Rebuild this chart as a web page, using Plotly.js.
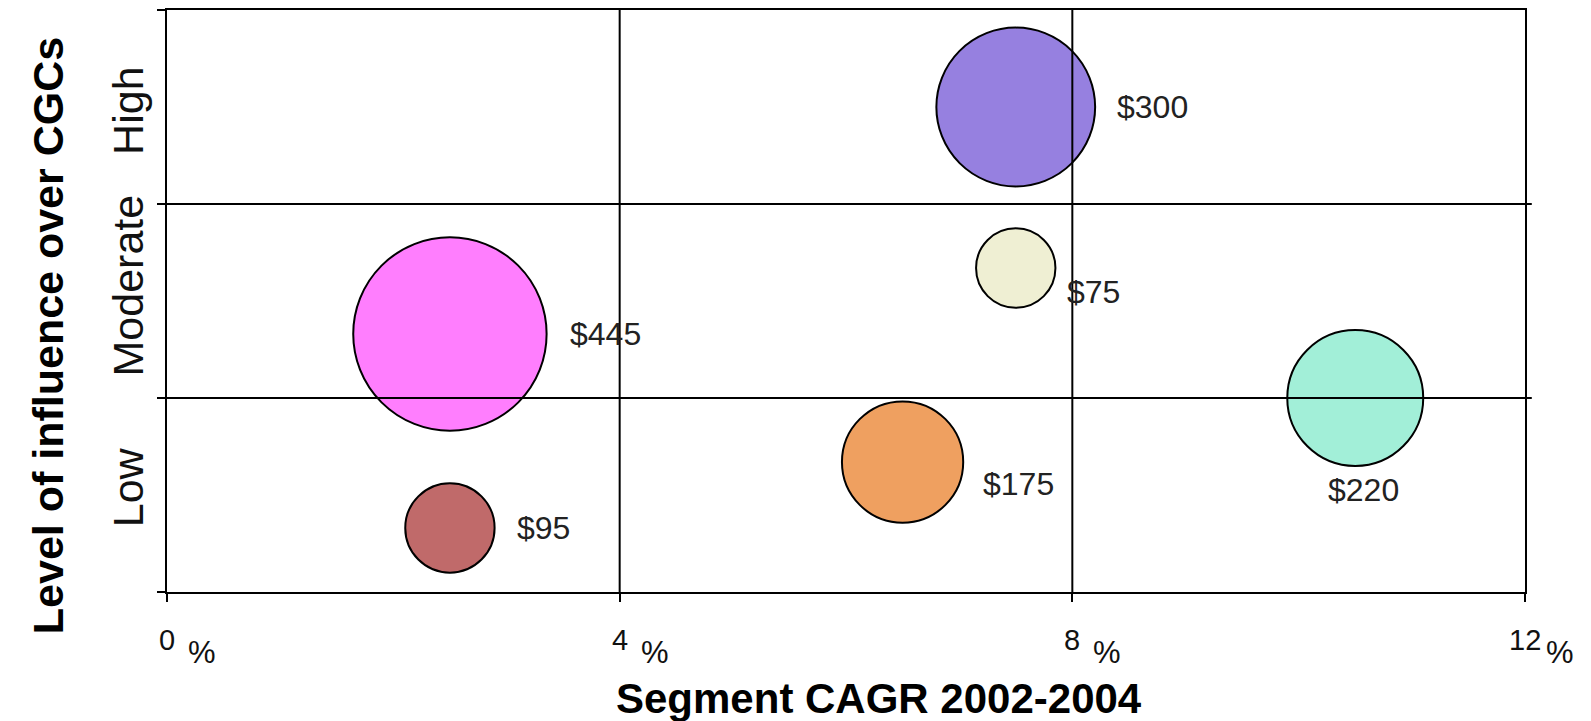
<!DOCTYPE html>
<html><head><meta charset="utf-8">
<script src="https://cdn.plot.ly/plotly-3.0.1.min.js"></script>
<style>html,body{margin:0;padding:0;background:#fff}#chart{width:1591px;height:721px}</style>
</head><body><div id="chart"></div>
<script>
// ---- data ----
const segmentLabels = ['$445', '$95', '$300', '$75', '$175', '$220'];
const cagr = [2.5, 2.5, 7.5, 7.5, 6.5, 10.5];
const influence = [1.33, 0.33, 2.5, 1.67, 0.67, 1.0];
const segmentSize = [445, 95, 300, 75, 175, 220];
const xTickVals = [0, 4, 8, 12];
const xTickText = ['0', '4', '8', '12'];
const yTickVals = [0, 1, 2, 3];
const levelNames = ['Low', 'Moderate', 'High'];
const levelCenters = [0.54, 1.58, 2.48];

// ---- styles / placement ----
const bubbleColors = ['#FF7EFE', '#C06A6A', '#9680E0', '#EFEFD3', '#EFA060', '#A2EFD8'];
const labelPlace = [
  {side: 'right', gap: 21, dy: 0},
  {side: 'right', gap: 20, dy: 0},
  {side: 'right', gap: 20, dy: 0},
  {side: 'right', gap: 10, dy: 24},
  {side: 'right', gap: 18, dy: 22},
  {side: 'below', gap: 4, dx: 8}
];
const sizeref = 0.0238;
const bubbleRadius = v => Math.sqrt(v / (2 * sizeref));
const labelFont = 'Liberation Sans, Arial, sans-serif';
const bold = 'Liberation Sans, Arial, sans-serif';

const trace = {
  type: 'scatter', mode: 'markers',
  x: cagr, y: influence,
  marker: {
    size: segmentSize, sizemode: 'area', sizeref: sizeref,
    color: bubbleColors, opacity: 1,
    line: {color: '#000', width: 2}
  },
  hoverinfo: 'text', text: segmentLabels
};

const annotations = [];
segmentLabels.forEach((t, i) => {
  const r = bubbleRadius(segmentSize[i]);
  const p = labelPlace[i];
  const a = {x: cagr[i], y: influence[i], xref: 'x', yref: 'y', text: t, showarrow: false,
             font: {family: labelFont, size: 32, color: '#222'}};
  if (p.side === 'right') {
    Object.assign(a, {xanchor: 'left', yanchor: 'middle', xshift: r + p.gap, yshift: -p.dy});
  } else {
    Object.assign(a, {xanchor: 'center', yanchor: 'top', xshift: p.dx, yshift: -(r + p.gap)});
  }
  annotations.push(a);
});
levelNames.forEach((t, i) => {
  annotations.push({xref: 'paper', x: 0, xshift: -39, yref: 'y', y: levelCenters[i], text: t,
    textangle: -90, showarrow: false, xanchor: 'center', yanchor: 'middle',
    font: {family: labelFont, size: 43, color: '#111'}});
});
xTickVals.forEach((v, i) => {
  annotations.push({xref: 'x', x: v, yref: 'paper', y: 0, yshift: -48, text: xTickText[i],
    showarrow: false, xanchor: 'center', yanchor: 'middle', font: {family: labelFont, size: 29, color: '#111'}});
  annotations.push({xref: 'x', x: v, yref: 'paper', y: 0, yshift: -60, xshift: 19, text: '%',
    showarrow: false, xanchor: 'left', yanchor: 'middle', font: {family: labelFont, size: 31, color: '#111'}});
});
annotations.push({xref: 'paper', x: 0.5243, yref: 'paper', y: 0, yshift: -106, text: '<b>Segment CAGR 2002-2004</b>',
  showarrow: false, xanchor: 'center', yanchor: 'middle', font: {family: bold, size: 42, color: '#000'}});
annotations.push({xref: 'paper', x: 0, xshift: -119, yref: 'paper', y: 0.4395, text: '<b>Level of influence over CGCs</b>',
  textangle: -90, showarrow: false, xanchor: 'center', yanchor: 'middle', font: {family: bold, size: 43, color: '#000'}});

const shapes = [];
xTickVals.slice(1, -1).forEach(v => shapes.push({type: 'line', xref: 'x', yref: 'paper', x0: v, x1: v, y0: 0, y1: 1,
  layer: 'above', line: {color: '#000', width: 2}}));
yTickVals.slice(1, -1).forEach(v => shapes.push({type: 'line', xref: 'paper', yref: 'y', x0: 0, x1: 1.005, y0: v, y1: v,
  layer: 'above', line: {color: '#000', width: 2}}));

const layout = {
  width: 1591, height: 721,
  margin: {l: 167, r: 66, t: 10, b: 129},
  paper_bgcolor: '#fff', plot_bgcolor: '#fff',
  showlegend: false,
  xaxis: {range: [0, 12], tickvals: xTickVals, showticklabels: false, ticks: 'outside', ticklen: 8,
    tickwidth: 2, tickcolor: '#000', showgrid: false, zeroline: false, showline: true, linecolor: '#000',
    linewidth: 2, mirror: true, fixedrange: true},
  yaxis: {range: [0, 3], tickvals: yTickVals, showticklabels: false, ticks: 'outside', ticklen: 8,
    tickwidth: 2, tickcolor: '#000', showgrid: false, zeroline: false, showline: true, linecolor: '#000',
    linewidth: 2, mirror: true, fixedrange: true},
  annotations: annotations,
  shapes: shapes
};
Plotly.newPlot('chart', [trace], layout, {displayModeBar: false, staticPlot: true});
</script>
</body></html>
